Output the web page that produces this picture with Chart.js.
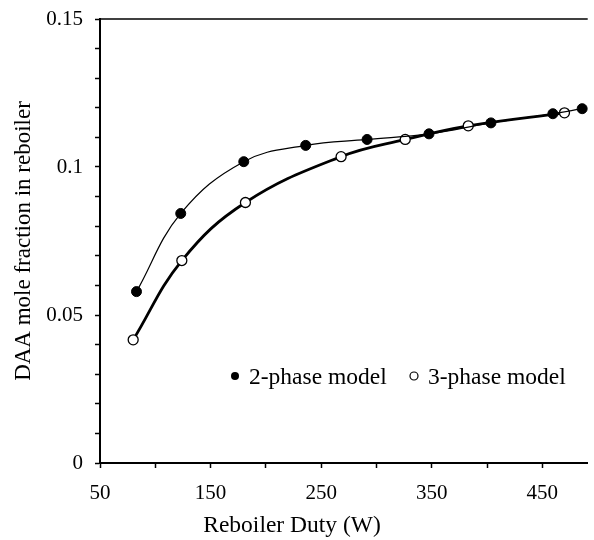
<!DOCTYPE html>
<html>
<head>
<meta charset="utf-8">
<script src="https://cdn.jsdelivr.net/npm/chart.js@4"></script>
<style>
  html, body { margin: 0; padding: 0; background: #fff; }
  #chart { display: block; }
</style>
</head>
<body>
<canvas id="chart" width="594" height="540"></canvas>
<script>
// reboiler duty (W) and DAA mole fraction
const duty2 = [83, 123, 180, 236, 291.5, 347.5, 403.5, 459.5, 486];
const frac2 = [0.0579, 0.0843, 0.1018, 0.1073, 0.1093, 0.1112, 0.1149, 0.1180, 0.1197];
const duty3 = [80, 124, 181.5, 268, 326, 383, 470];
const frac3 = [0.0416, 0.0684, 0.0880, 0.1035, 0.1093, 0.1139, 0.1183];

const seriesNames = ['2-phase model', '3-phase model'];
const xTicks = [50, 100, 150, 200, 250, 300, 350, 400, 450];
const xLabels = [50, 150, 250, 350, 450];
const yTicks = [0, 0.01, 0.02, 0.03, 0.04, 0.05, 0.06, 0.07, 0.08, 0.09, 0.1, 0.11, 0.12, 0.13, 0.14, 0.15];
const yLabels = [0, 0.05, 0.1, 0.15];

const FONT = "'Liberation Serif', 'Times New Roman', serif";

const toPoints = (xs, ys) => xs.map((x, i) => ({ x: x, y: ys[i] }));
const isLabel = (list, v) => list.some(l => Math.abs(l - v) < 1e-6);

// top frame line + legend inside the plot + x title
const extras = {
  id: 'extras',
  afterDraw(chart) {
    const ctx = chart.ctx;
    const a = chart.chartArea;
    ctx.save();
    ctx.strokeStyle = '#000';
    ctx.lineWidth = 1.5;
    ctx.beginPath();
    ctx.moveTo(a.left, a.top);
    ctx.lineTo(a.right, a.top);
    ctx.stroke();

    ctx.font = '23.5px ' + FONT;
    ctx.fillStyle = '#000';
    ctx.textBaseline = 'middle';
    ctx.textAlign = 'left';

    // legend
    ctx.beginPath();
    ctx.arc(235, 376, 4, 0, Math.PI * 2);
    ctx.fill();
    ctx.fillText(seriesNames[0], 249, 378);

    ctx.beginPath();
    ctx.lineWidth = 1.2;
    ctx.arc(414, 376, 4, 0, Math.PI * 2);
    ctx.stroke();
    ctx.fillText(seriesNames[1], 428, 378);

    // x title
    ctx.textAlign = 'center';
    ctx.fillText('Reboiler Duty (W)', 292, 526);
    ctx.restore();
  }
};

new Chart(document.getElementById('chart'), {
  type: 'scatter',
  data: {
    datasets: [
      {
        label: seriesNames[1],
        data: toPoints(duty3, frac3),
        showLine: true,
        tension: 0.4,
        borderColor: '#000',
        borderWidth: 2.8,
        pointRadius: 5,
        pointBackgroundColor: '#fff',
        pointBorderColor: '#000',
        pointBorderWidth: 1.3,
        order: 2
      },
      {
        label: seriesNames[0],
        data: toPoints(duty2, frac2),
        showLine: true,
        tension: 0.4,
        borderColor: '#000',
        borderWidth: 1.2,
        pointRadius: 5,
        pointBackgroundColor: '#000',
        pointBorderColor: '#000',
        pointBorderWidth: 1,
        order: 1
      }
    ]
  },
  options: {
    responsive: false,
    animation: false,
    devicePixelRatio: 1,
    clip: false,
    layout: { padding: { top: 19, right: 0, left: 0, bottom: 0 } },
    plugins: {
      legend: { display: false },
      tooltip: { enabled: false }
    },
    scales: {
      x: {
        type: 'linear',
        min: 50,
        max: 491,
        afterBuildTicks: s => { s.ticks = xTicks.map(v => ({ value: v })); },
        afterFit: s => { s.height = 77; s.paddingLeft = 0; s.paddingRight = 0; },
        border: { display: true, color: '#000', width: 2 },
        grid: { drawOnChartArea: false, drawTicks: true, tickLength: 5, tickColor: '#000', tickWidth: 1.5 },
        ticks: {
          color: '#000',
          padding: 13,
          maxRotation: 0,
          autoSkip: false,
          font: { family: FONT, size: 21 },
          callback: v => isLabel(xLabels, v) ? String(v) : ''
        }
      },
      y: {
        type: 'linear',
        min: 0,
        max: 0.15,
        afterBuildTicks: s => { s.ticks = yTicks.map(v => ({ value: v })); },
        afterFit: s => { s.width = 100; s.paddingTop = 0; s.paddingBottom = 0; },
        border: { display: true, color: '#000', width: 2 },
        grid: { drawOnChartArea: false, drawTicks: true, tickLength: 5, tickColor: '#000', tickWidth: 1.5 },
        title: {
          display: true,
          text: 'DAA mole fraction in reboiler',
          color: '#000',
          font: { family: FONT, size: 23 },
          padding: { top: 10, bottom: 0 }
        },
        ticks: {
          color: '#000',
          padding: 12,
          autoSkip: false,
          font: { family: FONT, size: 21 },
          callback: v => isLabel(yLabels, v) ? String(Math.round(v * 100) / 100) : ''
        }
      }
    }
  },
  plugins: [extras]
});
</script>
</body>
</html>
